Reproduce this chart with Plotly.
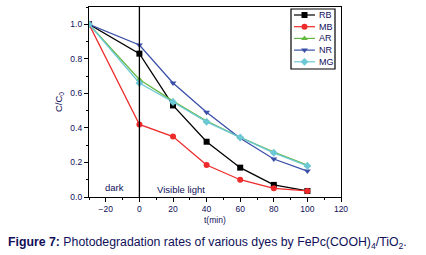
import plotly.graph_objects as go

t = [-30, 0, 20, 40, 60, 80, 100]
RB = [1.0, 0.83, 0.53, 0.32, 0.17, 0.07, 0.035]
MB = [1.0, 0.42, 0.35, 0.185, 0.10, 0.05, 0.035]
AR = [1.0, 0.68, 0.555, 0.44, 0.345, 0.26, 0.185]
NR = [1.0, 0.88, 0.66, 0.49, 0.34, 0.22, 0.15]
MG = [1.0, 0.66, 0.55, 0.435, 0.345, 0.256, 0.18]

series = [
    ("RB", RB, "#000000", "square"),
    ("MB", MB, "#ee2a2a", "circle"),
    ("AR", AR, "#66b845", "triangle-up"),
    ("NR", NR, "#3a4fa8", "triangle-down"),
    ("MG", MG, "#6cc8d4", "diamond"),
]

TXT = "#10105a"
fig = go.Figure()
for name, ys, col, sym in series:
    fig.add_trace(go.Scatter(x=t, y=ys, name=name, mode="lines+markers",
                             line=dict(color=col, width=1.3), showlegend=False,
                             marker=dict(symbol=sym, size=6, color=col)))

fig.add_shape(type="line", x0=0, x1=0, y0=0, y1=1.1, xref="x", yref="y",
              line=dict(color="black", width=1.3))

fig.add_annotation(x=-15, y=0.055, text="dark", showarrow=False,
                   font=dict(size=9.5, color=TXT))
fig.add_annotation(x=25, y=0.042, text="Visible light", showarrow=False,
                   font=dict(size=9.5, color=TXT))

# compact legend on an overlay axis measured in pixels of the plot area
ltop, lstep = 15, 11.7
fig.add_shape(type="rect", x0=291, x1=335, y0=9, y1=69, xref="x2", yref="y2",
              line=dict(color="black", width=1.2), fillcolor="white", layer="below")
for i, (name, ys, col, sym) in enumerate(series):
    yy = ltop + i * lstep
    fig.add_shape(type="line", x0=294, x1=315, y0=yy, y1=yy, xref="x2", yref="y2",
                  line=dict(color=col, width=1.2), layer="below")
    fig.add_trace(go.Scatter(x=[304.5], y=[yy], xaxis="x2", yaxis="y2", mode="markers",
                             marker=dict(symbol=sym, size=6, color=col),
                             showlegend=False, hoverinfo="skip"))
    fig.add_annotation(x=317, y=yy, xref="x2", yref="y2", text=name, xanchor="left",
                       yanchor="middle", showarrow=False, font=dict(size=9, color=TXT))

fig.add_annotation(x=0.5, y=-23 / 190, xref="paper", yref="paper", yanchor="middle",
                   text="t(min)", showarrow=False, font=dict(size=8.5, color=TXT))

fig.add_annotation(x=-83 / 252, y=-46 / 190, xref="paper", yref="paper", xanchor="left",
                   yanchor="middle", showarrow=False,
                   text="<b>Figure 7:</b> Photodegradation rates of various dyes by FePc(COOH)<sub>4</sub>/TiO<sub>2</sub>.",
                   font=dict(size=12.3, color=TXT))

fig.update_layout(
    xaxis=dict(range=[-30, 120], tick0=0, dtick=20, ticks="outside", ticklen=4,
               showline=True, linecolor="black", linewidth=1.3, mirror=True,
               showgrid=False, zeroline=False,
               minor=dict(dtick=10, ticks="outside", ticklen=2, tickcolor="black"),
               tickfont=dict(size=8.5, color=TXT), tickcolor="black"),
    yaxis=dict(range=[0, 1.1], tick0=0, dtick=0.2, ticks="outside", ticklen=4,
               showline=True, linecolor="black", linewidth=1.3, mirror=True,
               showgrid=False, zeroline=False, tickformat=".1f",
               minor=dict(dtick=0.1, ticks="outside", ticklen=2, tickcolor="black"),
               tickfont=dict(size=8.5, color=TXT), tickcolor="black",
               title=dict(text="C/C<sub>0</sub>", font=dict(size=9.5, color=TXT), standoff=5)),
    xaxis2=dict(overlaying="x", range=[89, 341], visible=False, fixedrange=True),
    yaxis2=dict(overlaying="y", range=[197, 7], visible=False, fixedrange=True),
    width=426, height=255,
    margin=dict(l=89, r=85, t=7, b=58),
    paper_bgcolor="white", plot_bgcolor="white",
    font=dict(family="Liberation Sans, Arial, sans-serif", color=TXT),
    showlegend=False,
)

fig.write_html("out.html", config={"displayModeBar": False},
               post_script="document.body.style.margin='0';")
